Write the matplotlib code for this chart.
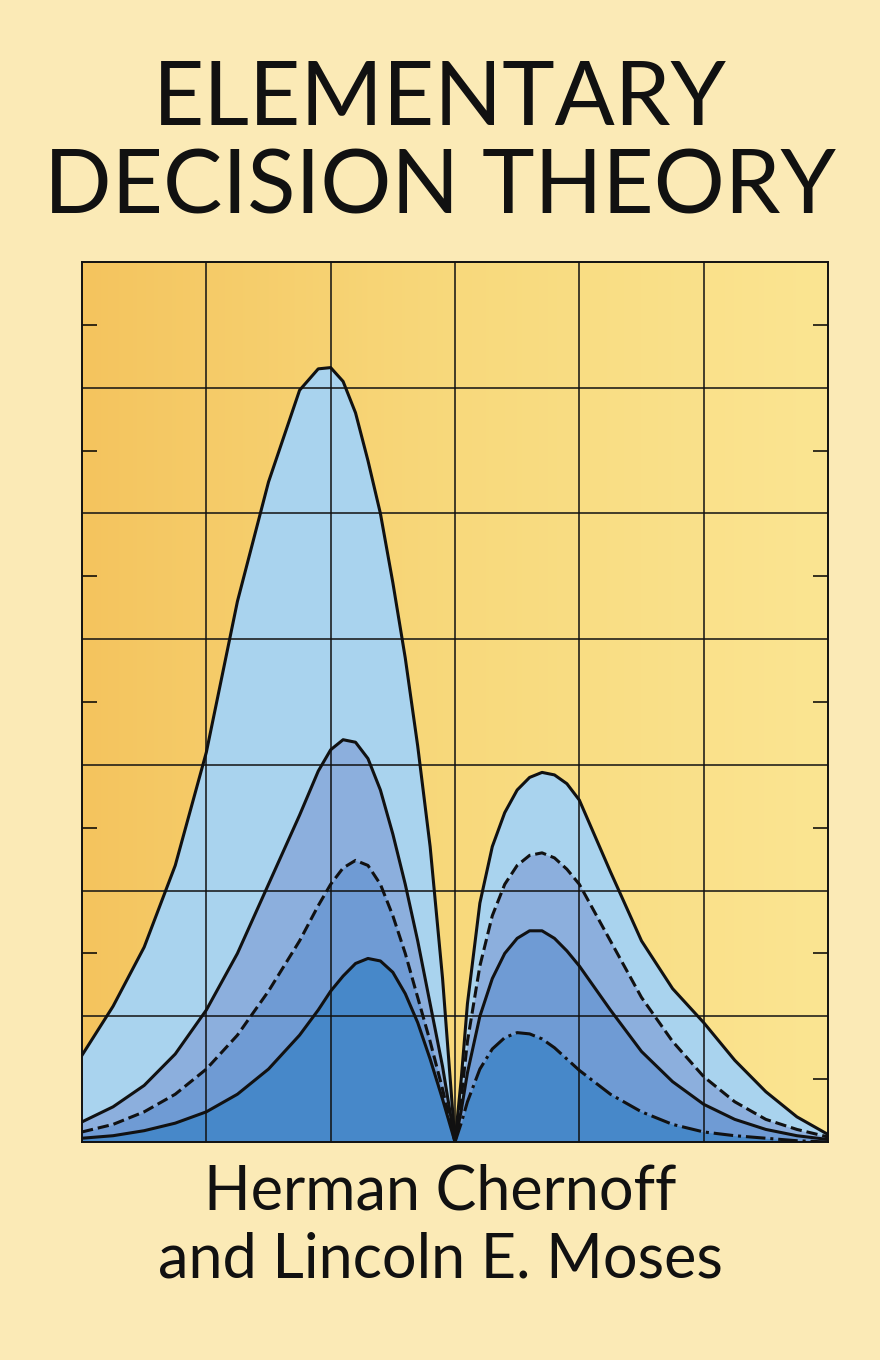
import numpy as np
import matplotlib.pyplot as plt
from matplotlib.colors import LinearSegmentedColormap

x = [0, .25, .5, .75, 1.0, 1.25, 1.5, 1.75, 1.9, 2.0, 2.1, 2.2, 2.3, 2.4, 2.5, 2.6, 2.7, 2.8, 2.9, 3.0,
     3.05, 3.1, 3.2, 3.3, 3.4, 3.5, 3.6, 3.7, 3.8, 3.9, 4.0, 4.25, 4.5, 4.75, 5.0, 5.25, 5.5, 5.75, 6.0]
y_outer = [0.69, 1.08, 1.55, 2.2, 3.1, 4.3, 5.25, 5.98, 6.15, 6.16, 6.05, 5.8, 5.42, 5.0, 4.45, 3.85, 3.15, 2.35, 1.3, 0,
           0.5, 1.1, 1.9, 2.35, 2.62, 2.8, 2.9, 2.94, 2.92, 2.85, 2.72, 2.15, 1.6, 1.22, 0.95, 0.65, 0.4, 0.2, 0.06]
y_second = [0.16, 0.28, 0.45, 0.7, 1.05, 1.5, 2.05, 2.6, 2.95, 3.12, 3.2, 3.18, 3.05, 2.8, 2.45, 2.05, 1.6, 1.1, 0.6, 0,
            0.35, 0.8, 1.4, 1.8, 2.05, 2.2, 2.28, 2.3, 2.26, 2.17, 2.05, 1.6, 1.15, 0.8, 0.52, 0.32, 0.18, 0.1, 0.04]
y_third = [0.08, 0.14, 0.24, 0.38, 0.58, 0.85, 1.2, 1.6, 1.88, 2.05, 2.18, 2.24, 2.2, 2.05, 1.8, 1.5, 1.15, 0.8, 0.42, 0,
           0.25, 0.55, 1.0, 1.3, 1.5, 1.62, 1.68, 1.68, 1.62, 1.52, 1.4, 1.05, 0.72, 0.48, 0.3, 0.18, 0.1, 0.05, 0.02]
y_fourth = [0.03, 0.05, 0.09, 0.15, 0.24, 0.38, 0.58, 0.85, 1.05, 1.2, 1.32, 1.42, 1.46, 1.44, 1.35, 1.18, 0.95, 0.66, 0.34, 0,
            0.15, 0.32, 0.58, 0.74, 0.83, 0.87, 0.86, 0.82, 0.75, 0.66, 0.57, 0.38, 0.24, 0.14, 0.08, 0.05, 0.03, 0.01, 0.0]

curves = [y_outer, y_second, y_third, y_fourth]
fills = ['#A9D3EE', '#8CAFDD', '#6F9BD4', '#4788C9']
left_styles = ['-', '-', '--', '-']
right_styles = ['-', '--', '-', '-.']

BG = '#FBEAB6'
fig = plt.figure(figsize=(8.8, 13.6), dpi=100, facecolor=BG)
ax = fig.add_axes([82/880, (1360-1142)/1360, 746/880, 880/1360])

grad = LinearSegmentedColormap.from_list('g', ['#F4C45E', '#F8D97C', '#FBE592'])
ax.imshow(np.linspace(0, 1, 256)[None, :], extent=[0, 6, 0, 7], aspect='auto',
          cmap=grad, zorder=0)

xa = np.array(x)
for i, yc in enumerate(curves):
    ax.fill_between(xa, 0, yc, color=fills[i], zorder=2 + i, lw=0)

for v in range(1, 6):
    ax.axvline(v, color='#111', lw=1.1, zorder=7)
for h in range(1, 7):
    ax.axhline(h, color='#111', lw=1.1, zorder=7)

mid = x.index(3.0)
for i, yc in enumerate(curves):
    ya = np.array(yc)
    ax.plot(xa[:mid + 1], ya[:mid + 1], color='#111', lw=2.2, ls=left_styles[i],
            zorder=8, solid_joinstyle='round')
    ax.plot(xa[mid:], ya[mid:], color='#111', lw=2.2, ls=right_styles[i],
            zorder=8, solid_joinstyle='round')

ax.set_xlim(0, 6)
ax.set_ylim(0, 7)
ax.set_xticks([])
ax.set_yticks(np.arange(0.5, 7, 1))
ax.tick_params(axis='y', direction='in', length=11, width=1.1, left=True, right=True,
               labelleft=False, labelright=False)
for s in ax.spines.values():
    s.set_linewidth(1.4)
    s.set_color('#111')
    s.set_zorder(9)

fam = ['Lato', 'DejaVu Sans']
fig.text(0.5, 1 - 100/1360, 'ELEMENTARY', ha='center', va='center', fontsize=64,
         family=fam, color='#111')
fig.text(0.5, 1 - 188/1360, 'DECISION THEORY', ha='center', va='center', fontsize=64,
         family=fam, color='#111')
fig.text(0.5, 1 - 1192/1360, 'Herman Chernoff', ha='center', va='center', fontsize=44,
         family=fam, color='#111')
fig.text(0.5, 1 - 1260/1360, 'and Lincoln E. Moses', ha='center', va='center', fontsize=44,
         family=fam, color='#111')

fig.savefig('out.png', dpi=100, facecolor=BG)
